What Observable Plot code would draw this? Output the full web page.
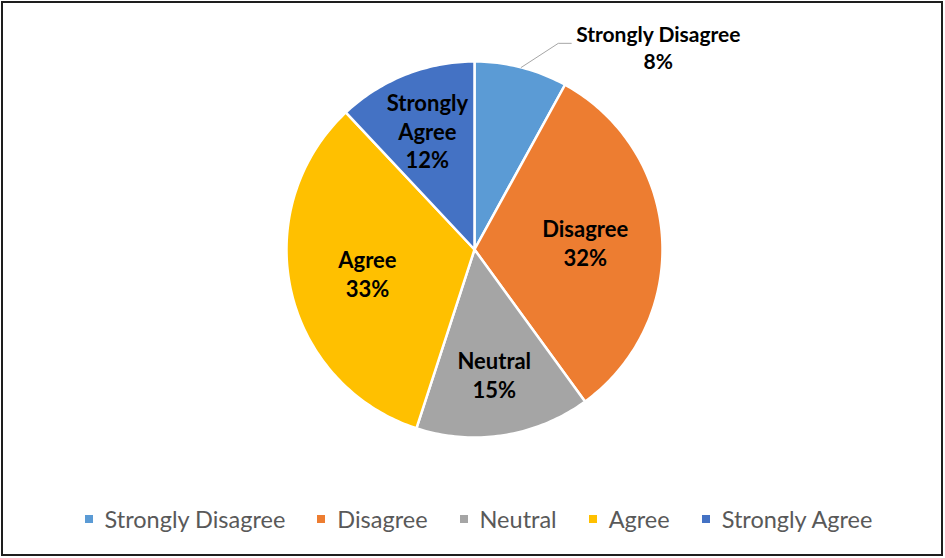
<!DOCTYPE html>
<html>
<head>
<meta charset="utf-8">
<script src="https://cdn.jsdelivr.net/npm/d3@7"></script>
<script src="https://cdn.jsdelivr.net/npm/@observablehq/plot@0.6"></script>
<style>
  html, body { margin: 0; padding: 0; background: #fff; }
  #wrap { position: relative; width: 945px; height: 558px; overflow: hidden; }
  #chart { position: absolute; left: 0; top: 0; }
  #legend { position: absolute; left: 0; top: 502px; width: 945px; }
  #frame { position: absolute; left: 1px; top: 1px; width: 942px; height: 555px; box-sizing: border-box; border: 2px solid #1e1e1e; pointer-events: none; }
  .lg-swatches-wrap { justify-content: center !important; padding-left: 12px; }
  .lg-swatches-wrap .lg-swatch { margin: 0 16px !important; }
  .lg-swatch > svg { margin-right: 12px !important; }
</style>
</head>
<body>
<div id="wrap">
  <div id="chart"></div>
  <div id="legend"></div>
  <div id="frame"></div>
</div>
<script>
const categories = ["Strongly Disagree", "Disagree", "Neutral", "Agree", "Strongly Agree"];
const percents = [8, 32, 15, 33, 12];
const colors = ["#5B9BD5", "#ED7D31", "#A5A5A5", "#FFC000", "#4472C4"];

const rows = categories.map((c, i) => ({category: c, value: percents[i]}));
const arcs = d3.pie().sort(null).value(d => d.value)(rows);

const polar = (a, r) => [r * Math.sin(a), r * Math.cos(a)];

// slice polygons
const slicePts = [];
for (const a of arcs) {
  const cat = a.data.category;
  slicePts.push({cat, x: 0, y: 0});
  const n = Math.max(2, Math.ceil((a.endAngle - a.startAngle) / (Math.PI / 180)));
  for (let k = 0; k <= n; k++) {
    const t = a.startAngle + (a.endAngle - a.startAngle) * k / n;
    const [x, y] = polar(t, 1);
    slicePts.push({cat, x, y});
  }
  slicePts.push({cat, x: 0, y: 0});
}

const mid = a => (a.startAngle + a.endAngle) / 2;
// distance of the sector's centroid from the centre (unit radius)
const centroidR = a => {
  const h = (a.endAngle - a.startAngle) / 2;
  return (2 / 3) * Math.sin(h) / h;
};
const inside = arcs.filter(a => a.data.value >= 10);
const outside = arcs.filter(a => a.data.value < 10);

const insideLabels = inside.map(a => {
  const [x, y] = polar(mid(a), centroidR(a) + 0.03);
  return {x, y, text: a.data.category + "\n" + a.data.value + "%"};
});

const leaderPts = [];
const outsideLabels = [];
for (const a of outside) {
  const [ex, ey] = polar(mid(a), 1.0);
  const bx = ex + 0.197, by = ey + 0.128;
  const cx = bx + 0.069, cy = by;
  leaderPts.push({cat: a.data.category, x: ex, y: ey}, {cat: a.data.category, x: bx, y: by}, {cat: a.data.category, x: cx, y: cy});
  outsideLabels.push({x: cx + 0.463, y: cy - 0.02, text: a.data.category + "\n" + a.data.value + "%"});
}

const chart = Plot.plot({
  width: 945,
  height: 490,
  marginLeft: 286,
  marginRight: 283,
  marginTop: 61,
  marginBottom: 53,
  x: {domain: [-1, 1], axis: null},
  y: {domain: [-1, 1], axis: null},
  color: {domain: categories, range: colors},
  style: {fontFamily: "Lato, sans-serif", background: "transparent", overflow: "visible"},
  marks: [
    Plot.line(slicePts, {x: "x", y: "y", z: "cat", fill: "cat", stroke: "#ffffff", strokeWidth: 2.5, strokeLinejoin: "round"}),
    Plot.line(leaderPts, {x: "x", y: "y", z: "cat", stroke: "#A6A6A6", strokeWidth: 1}),
    Plot.text(insideLabels, {x: "x", y: "y", text: "text", fontSize: 22, fontWeight: "bold", fill: "#000", lineHeight: 1.3, lineWidth: 6}),
    Plot.text(outsideLabels, {x: "x", y: "y", text: "text", fontSize: 21, fontWeight: "bold", fill: "#000", lineHeight: 1.3})
  ]
});
document.getElementById("chart").appendChild(chart);

const legend = Plot.legend({
  color: {domain: categories, range: colors},
  swatchSize: 8,
  className: "lg",
  style: {fontFamily: "Lato, sans-serif", fontSize: "23.5px", color: "#595959"}
});
document.getElementById("legend").appendChild(legend);
</script>
</body>
</html>
